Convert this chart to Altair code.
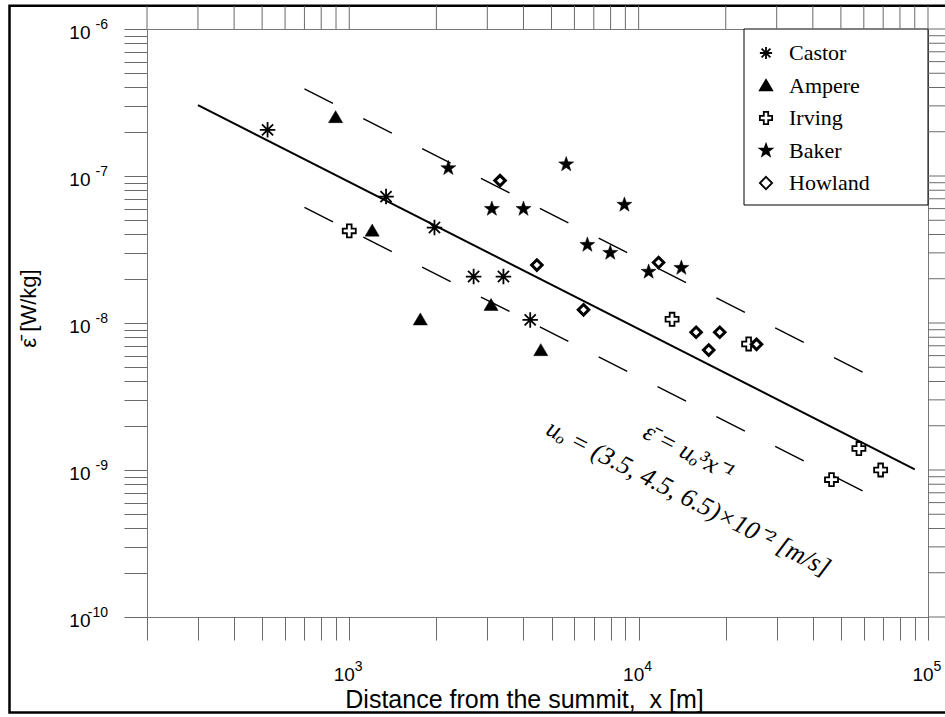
import altair as alt
import pandas as pd

# ---------------- data ----------------
series_names = ["Castor", "Ampere", "Irving", "Baker", "Howland"]

castor_x = [522, 1340, 1970, 2690, 3410, 4220]
castor_y = [2.06e-7, 7.24e-8, 4.46e-8, 2.07e-8, 2.07e-8, 1.05e-8]

ampere_x = [897, 1200, 1760, 3090, 4590]
ampere_y = [2.52e-7, 4.26e-8, 1.06e-8, 1.33e-8, 6.55e-9]

irving_x = [1000, 13050, 24000, 57700, 68600, 46400]
irving_y = [4.23e-8, 1.06e-8, 7.2e-9, 1.40e-9, 1.0e-9, 8.6e-10]

baker_x = [2200, 3110, 4000, 5620, 6650, 7980, 8930, 10830, 14050]
baker_y = [1.13e-7, 5.97e-8, 5.97e-8, 1.2e-7, 3.40e-8, 3.0e-8, 6.37e-8, 2.23e-8, 2.37e-8]

howland_x = [3320, 4450, 6450, 11720, 15800, 19070, 17470, 25550]
howland_y = [9.31e-8, 2.48e-8, 1.23e-8, 2.58e-8, 8.65e-9, 8.65e-9, 6.55e-9, 7.16e-9]

# fit lines  eps = u^3 / x  (end points)
solid_x = [300, 90000]
solid_y = [3.04e-7, 1.01e-9]
upper_x = [700, 60000]
upper_y = [3.92e-7, 4.58e-9]
lower_x = [700, 60000]
lower_y = [6.12e-8, 7.15e-10]

# tick values / labels
x_ticks = [200, 300, 400, 500, 600, 700, 800, 900,
           1000, 2000, 3000, 4000, 5000, 6000, 7000, 8000, 9000,
           10000, 20000, 30000, 40000, 50000, 60000, 70000, 80000, 90000, 100000]
y_ticks = [m * 10.0 ** e for e in range(-10, -6) for m in range(1, 10)] + [1e-6]
x_decades = [1e3, 1e4, 1e5]
x_exponents = ["3", "4", "5"]
y_decades = [1e-6, 1e-7, 1e-8, 1e-9, 1e-10]
y_exponents = ["-6", "-7", "-8", "-9", "-10"]

annot_text = ["ε̄ = uₒ³x⁻¹", "uₒ = (3.5, 4.5, 6.5)×10⁻² [m/s]"]
annot_x = [14860, 14860]
annot_y = [1.32e-9, 6.43e-10]

# ---------------- styles ----------------
STAR = ("M0,-1L0.235,-0.324L0.951,-0.309L0.38,0.124L0.588,0.809L0,0.4"
        "L-0.588,0.809L-0.38,0.124L-0.951,-0.309L-0.235,-0.324Z")
marker_shape = {
    "Castor": "M-1,0L1,0M0,-1L0,1M-0.72,-0.72L0.72,0.72M-0.72,0.72L0.72,-0.72",
    "Ampere": "M0,-0.9L1,0.8L-1,0.8Z",
    "Irving": "M-0.36,-1L0.36,-1L0.36,-0.36L1,-0.36L1,0.36L0.36,0.36L0.36,1L-0.36,1L-0.36,0.36L-1,0.36L-1,-0.36L-0.36,-0.36Z",
    "Baker": STAR,
    "Howland": "M0,-1L1,0L0,1L-1,0Z",
}
marker_fill = {"Castor": "white", "Ampere": "black", "Irving": "white",
               "Baker": "black", "Howland": "white"}
marker_size = {"Castor": 240, "Ampere": 200, "Irving": 170, "Baker": 250, "Howland": 110}
marker_sw = {"Castor": 1.8, "Ampere": 0.5, "Irving": 1.8, "Baker": 0.5, "Howland": 3.0}

rows = []
for name, xs, ys in [("Castor", castor_x, castor_y), ("Ampere", ampere_x, ampere_y),
                     ("Irving", irving_x, irving_y), ("Baker", baker_x, baker_y),
                     ("Howland", howland_x, howland_y)]:
    for xv, yv in zip(xs, ys):
        rows.append({"series": name, "x": xv, "y": yv,
                     "sz": marker_size[name], "sw": marker_sw[name]})
pts = pd.DataFrame(rows)

solid_df = pd.DataFrame({"x": solid_x, "y": solid_y})
dash_df = pd.DataFrame({"x": upper_x + lower_x, "y": upper_y + lower_y,
                        "line": ["upper"] * 2 + ["lower"] * 2})
annot_df = pd.DataFrame({"x": annot_x, "y": annot_y, "t": annot_text})
xt_df = pd.DataFrame({"x": x_ticks})
yt_df = pd.DataFrame({"y": y_ticks})
xexp_df = pd.DataFrame({"x": x_decades, "t": x_exponents})
yexp_df = pd.DataFrame({"y": y_decades, "t": y_exponents})

# ---------------- scales / axes ----------------
x_scale = alt.Scale(type="log", domain=[200, 100000], nice=False)
y_scale = alt.Scale(type="log", domain=[1e-10, 1e-6], nice=False)

E = "round(log(datum.value)/LN10)"
COND = f"abs(log(datum.value)/LN10 - {E}) > 0.001"
x_label_expr = f"{COND} ? '' : '10'"
y_label_expr = f"{COND} ? '' : ({E} == -10 ? '10\u2002' : '10')"

TICK_COL = "#6a6a6a"
SANS = "Liberation Sans"
SERIF = "Liberation Serif, Times New Roman, serif"

bottom_axis = alt.Axis(
    orient="bottom", values=x_ticks, labelExpr=x_label_expr,
    tickSize=23, tickColor=TICK_COL, tickWidth=1, domain=False, grid=False,
    labelFont=SANS, labelFontSize=19, labelColor="black", labelPadding=34,
    labelBaseline="middle", labelOffset=-5.5,
    labelFlush=False, labelOverlap=False,
    title="Distance from the summit,\u00a0 x [m]", titleFont=SANS, titleFontSize=25,
    titleFontWeight="normal", titleColor="black",
    titleX=377, titleY=90, titleAlign="center", titleBaseline="alphabetic",
)
left_axis = alt.Axis(
    orient="left", values=y_ticks, labelExpr=y_label_expr,
    tickSize=23, tickColor=TICK_COL, tickWidth=1, domain=False, grid=False,
    labelFont=SANS, labelFontSize=19, labelColor="black", labelPadding=34,
    labelFlush=False, labelOverlap=False, labelBaseline="middle", labelOffset=3,
    title="ε̄  [W/kg]", titleFont=SANS, titleFontSize=22, titleFontWeight="normal",
    titleColor="black", titleAngle=-90, titleX=-119, titleY=279,
    titleAlign="center", titleBaseline="middle",
)

legend = alt.Legend(
    orient="none", legendX=608, legendY=13, title=None, padding=0,
    labelFont=SERIF, labelFontSize=22, labelColor="black",
    symbolSize=150, symbolStrokeWidth=1.8, symbolStrokeColor="black",
    rowPadding=10.5, labelOffset=12, strokeColor="transparent",
)

X = lambda: alt.X("x:Q", scale=x_scale, axis=bottom_axis)
Y = lambda: alt.Y("y:Q", scale=y_scale, axis=left_axis)

# ---------------- layers ----------------
frame = alt.Chart(pd.DataFrame({"a": [0]})).mark_rect(
    fill="white", fillOpacity=0, stroke="black", strokeWidth=2.5
).encode(x=alt.value(-137.5), x2=alt.value(830), y=alt.value(-23.3), y2=alt.value(683.5))

legend_box = alt.Chart(pd.DataFrame({"a": [0]})).mark_rect(
    fill="white", stroke="black", strokeWidth=1
).encode(x=alt.value(597), x2=alt.value(781), y=alt.value(0), y2=alt.value(176))

top_ticks = alt.Chart(xt_df).mark_rule(color=TICK_COL, strokeWidth=1).encode(
    x=X(), y=alt.value(0), y2=alt.value(-23)
)
right_ticks = alt.Chart(yt_df).mark_rule(color=TICK_COL, strokeWidth=1).encode(
    y=Y(), x=alt.value(781), x2=alt.value(804)
)

x_exp = alt.Chart(xexp_df).mark_text(
    font=SANS, fontSize=14, align="left", baseline="middle", dx=5.5, color="black"
).encode(x=X(), y=alt.value(638), text="t:N")

y_exp = alt.Chart(yexp_df).mark_text(
    font=SANS, fontSize=14, align="right", baseline="middle", dy=-4, color="black"
).encode(y=Y(), x=alt.value(-39), text="t:N")

solid = alt.Chart(solid_df).mark_line(color="black", strokeWidth=2).encode(x=X(), y=Y())

dashed = alt.Chart(dash_df).mark_line(color="black", strokeWidth=1.4, strokeDash=[32, 34]).encode(
    x=X(), y=Y(), detail="line:N",
)

annot = alt.Chart(annot_df).mark_text(
    angle=27, font=SERIF, fontStyle="italic", fontSize=26,
    align="center", baseline="middle", color="black"
).encode(x=X(), y=Y(), text="t:N")

points = alt.Chart(pts).mark_point(opacity=1, fillOpacity=1).encode(
    x=X(), y=Y(),
    shape=alt.Shape("series:N", scale=alt.Scale(domain=series_names,
                    range=[marker_shape[s] for s in series_names]), legend=legend),
    fill=alt.Fill("series:N", scale=alt.Scale(domain=series_names,
                  range=[marker_fill[s] for s in series_names]), legend=legend),
    stroke=alt.Stroke("series:N", scale=alt.Scale(domain=series_names,
                      range=["black"] * len(series_names)), legend=legend),
    size=alt.Size("sz:Q", scale=None, legend=None),
    strokeWidth=alt.StrokeWidth("sw:Q", scale=None, legend=None),
)

chart = alt.layer(frame, legend_box, top_ticks, right_ticks, x_exp, y_exp,
                  solid, dashed, annot, points).properties(
    width=781, height=588,
    padding={"left": 147, "top": 29, "right": 17, "bottom": 100},
    autosize=alt.AutoSizeParams(type="none"),
    background="white",
).configure_view(stroke="#777777", strokeWidth=1).configure_axis(grid=False)

chart.save("out.html", embed_options={"renderer": "svg", "actions": False})
